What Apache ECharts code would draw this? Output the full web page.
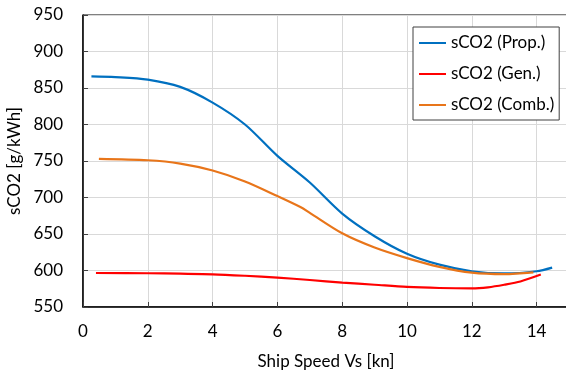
<!DOCTYPE html>
<html>
<head>
<meta charset="utf-8">
<style>
  html, body { margin: 0; padding: 0; background: #fff; }
  #chart-container { width: 566px; height: 373px; }
</style>
<script src="https://cdn.jsdelivr.net/npm/echarts@6/dist/echarts.min.js"></script>
</head>
<body>
<div id="chart-container"></div>
<script>
// ship speed [kn] and sCO2 [g/kWh]
let propSpeed = [0.26, 1, 2, 3, 4, 5, 6, 7, 8, 9, 10, 11, 12, 13, 14, 14.48];
let propCO2 = [866, 865, 861.5, 851.5, 830, 800, 757, 720.5, 678, 647, 623, 608, 599, 596, 599, 604];

let genSpeed = [0.4, 2, 3, 4, 5, 6, 7, 8, 9, 10, 11, 12, 12.5, 13, 13.5, 14.13];
let genCO2 = [596.6, 596.2, 595.6, 594.8, 592.8, 590.3, 587, 583.5, 580.5, 577.5, 576, 575.5, 577, 580.5, 585, 594.4];

let combSpeed = [0.49, 2, 3, 4, 5, 6, 6.71, 7, 8, 9, 10, 11, 12, 13, 13.9];
let combCO2 = [753, 751, 746.5, 737, 722, 702, 687, 679, 651, 631.5, 617, 605, 597, 595, 597.5];

let seriesNames = ["sCO2 (Prop.)", "sCO2 (Gen.)", "sCO2 (Comb.)"];

function pairs(xs, ys) {
    return xs.map((x, i) => [x, ys[i]]);
}

let dom = document.getElementById("chart-container");
let myChart = echarts.init(dom, null, {
    renderer: "canvas",
    useDirtyRect: false,
});
let option;

let font = "Lato";

option = {
    animation: false,
    grid: {
        left: 83,
        top: 15,
        bottom: 66,
        right: -3,
        outerBoundsMode: "none",
        containLabel: false,
        show: true,
        borderColor: "#000",
        borderWidth: 1,
    },
    legend: {
        orient: "vertical",
        left: 413,
        top: 27,
        padding: [7, 5, 6, 6],
        itemGap: 13,
        itemWidth: 27,
        itemHeight: 2,
        icon: "rect",
        backgroundColor: "#fff",
        borderColor: "#404040",
        borderWidth: 1,
        textStyle: { fontFamily: font, fontSize: 17, color: "#000", lineHeight: 18 },
        data: seriesNames,
    },
    xAxis: {
        type: "value",
        min: 0,
        max: 15,
        interval: 2,
        name: "Ship Speed Vs [kn]",
        nameLocation: "middle",
        nameGap: 46,
        nameTextStyle: { fontFamily: font, fontSize: 17, color: "#000" },
        axisLine: { lineStyle: { color: "#000", width: 1.5 } },
        axisTick: { inside: true, length: 5, lineStyle: { color: "#404040" } },
        axisLabel: { fontFamily: font, fontSize: 17, color: "#000", margin: 16, showMaxLabel: false },
        splitLine: { lineStyle: { color: "#d9d9d9", width: 1 } },
    },
    yAxis: {
        type: "value",
        min: 550,
        max: 950,
        interval: 50,
        name: "sCO2 [g/kWh]",
        nameLocation: "middle",
        nameGap: 57,
        nameTextStyle: { fontFamily: font, fontSize: 17, color: "#000" },
        axisLine: { show: true, lineStyle: { color: "#000", width: 1.5 } },
        axisTick: { show: true, inside: true, length: 5, lineStyle: { color: "#404040" } },
        axisLabel: { fontFamily: font, fontSize: 17, color: "#000", margin: 20 },
        splitLine: { lineStyle: { color: "#d9d9d9", width: 1 } },
    },
    series: [{
        name: seriesNames[0],
        type: "line",
        data: pairs(propSpeed, propCO2),
        smooth: 0.3,
        showSymbol: false,
        color: "#0070C0",
        lineStyle: { width: 2.2 },
    }, {
        name: seriesNames[1],
        type: "line",
        data: pairs(genSpeed, genCO2),
        smooth: 0.3,
        showSymbol: false,
        color: "#FF0000",
        lineStyle: { width: 2.2 },
    }, {
        name: seriesNames[2],
        type: "line",
        data: pairs(combSpeed, combCO2),
        smooth: 0.3,
        showSymbol: false,
        color: "#E8751A",
        lineStyle: { width: 2.2 },
    }, ],
};

if (option && typeof option === "object") {
    myChart.setOption(option);
}

window.addEventListener("resize", myChart.resize);
</script>
</body>
</html>
